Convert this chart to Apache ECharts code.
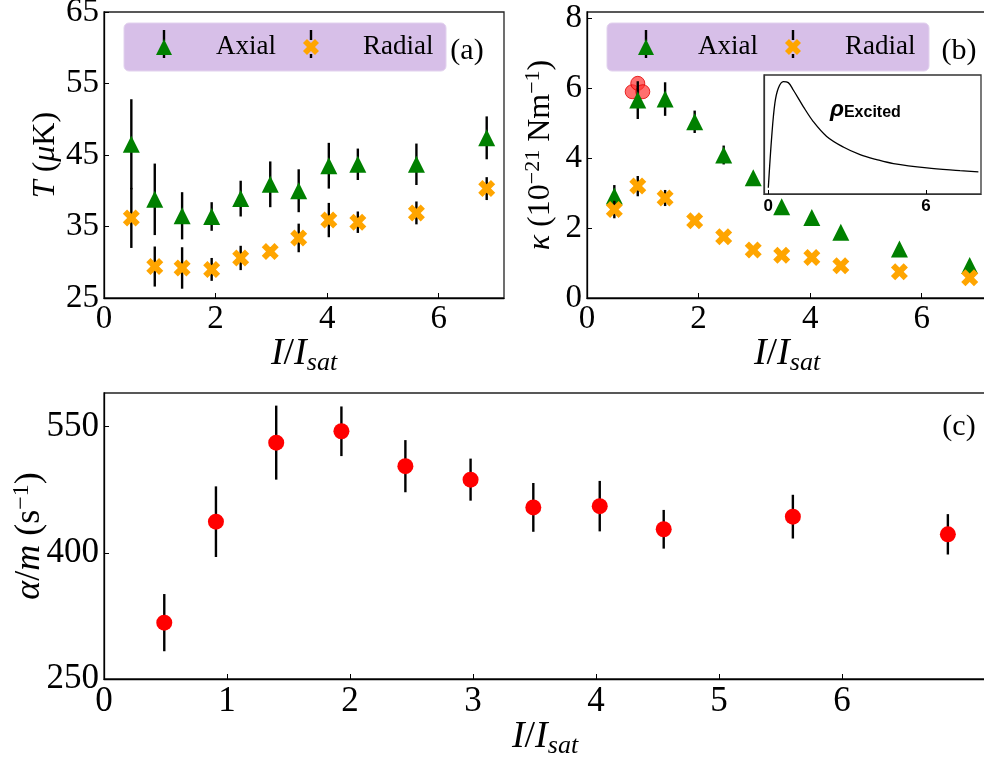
<!DOCTYPE html>
<html><head><meta charset="utf-8">
<script src="https://cdn.jsdelivr.net/npm/echarts@6/dist/echarts.min.js"></script>
<style>html,body{margin:0;padding:0;background:#fff}#c{width:984px;height:757px}</style>
</head><body><div id="c"></div>
<script>
// ---------- data ----------
const intensity = [0.49, 0.91, 1.40, 1.93, 2.45, 2.98, 3.49, 4.03, 4.55, 5.60, 6.86];
const tempAxial = [46.5, 38.8, 36.5, 36.4, 38.9, 40.9, 40.0, 43.5, 43.7, 43.7, 47.4];
const tempAxialErr = [6.3, 5.0, 3.3, 2.0, 2.5, 3.2, 3.0, 3.2, 2.2, 2.9, 3.0];
const tempRadial = [36.2, 29.4, 29.2, 29.0, 30.6, 31.5, 33.4, 35.9, 35.6, 36.9, 40.3];
const tempRadialErr = [4.2, 2.8, 2.9, 1.6, 1.7, 0.6, 2.0, 2.4, 1.5, 1.6, 1.6];
const kappaAxial = [2.92, 5.66, 5.69, 5.04, 4.09, 3.44, 2.61, 2.30, 1.88, 1.40, 0.93];
const kappaAxialErr = [0.31, 0.54, 0.48, 0.32, 0.27, 0.12, 0.1, 0.1, 0.1, 0.1, 0.1];
const kappaRadial = [2.53, 3.20, 2.86, 2.21, 1.75, 1.37, 1.22, 1.16, 0.92, 0.75, 0.58];
const kappaRadialErr = [0.25, 0.29, 0.23, 0.1, 0.1, 0.1, 0.1, 0.1, 0.1, 0.1, 0.1];
const peakX = [0.81, 0.91, 1.00];
const peakY = [5.90, 6.14, 5.90];
const alphaM = [317, 437, 531, 544.5, 503, 487, 454, 455.5, 428, 443, 422];
const alphaMErr = [34, 42, 44, 29.5, 31, 25, 29, 30, 23, 26, 24];
const insetX = [0, 0.13, 0.25, 0.38, 0.57, 0.76, 0.95, 1.33, 1.71, 2.22, 2.85, 3.49, 4.12, 4.76, 6.03, 7.29, 7.99];
const insetY = [0.052, 0.484, 0.763, 0.889, 0.944, 0.936, 0.874, 0.735, 0.609, 0.484, 0.395, 0.331, 0.289, 0.255, 0.219, 0.197, 0.186];
const ticksX_ab = [0, 2, 4, 6];
const ticksY_a = [25, 35, 45, 55, 65];
const ticksY_b = [0, 2, 4, 6, 8];
const ticksX_c = [0, 1, 2, 3, 4, 5, 6];
const ticksY_c = [250, 400, 550];
const ticksX_inset = [0, 6];

// ---------- helpers ----------
const SERIF = '"Liberation Serif"';
const SANS = '"Liberation Sans"';
const X_PATH = 'path://M1 0L2 1L3 0L4 1L3 2L4 3L3 4L2 3L1 4L0 3L1 2L0 1Z';
const zip = (a, b) => a.map((v, i) => [v, b[i]]);
const zip3 = (a, b, c) => a.map((v, i) => [v, b[i], c[i]]);

function errRender(params, api) {
  const x = api.value(0), y = api.value(1), e = api.value(2);
  const p1 = api.coord([x, y - e]), p2 = api.coord([x, y + e]);
  return { type: 'line', shape: { x1: p1[0], y1: p1[1], x2: p2[0], y2: p2[1] },
           style: { stroke: '#000', lineWidth: 2.4 } };
}
function axis(gridIndex, min, max, ticks, fontSize, extra) {
  return Object.assign({
    type: 'value', gridIndex, min, max, nameMoveOverlap: false,
    axisLine: { show: true, onZero: false, lineStyle: { color: '#000', width: 1.3 } },
    axisTick: { show: true, inside: true, length: 5, customValues: ticks, lineStyle: { color: '#000', width: 1 } },
    axisLabel: { show: true, customValues: ticks, fontFamily: SERIF, fontSize, color: '#000', margin: 5 },
    splitLine: { show: false }
  }, extra || {});
}
const xName = {
  name: '{i|I}{n|/}{i|I}{s|sat}', nameLocation: 'middle', nameGap: 34,
  nameTextStyle: { color: '#000', fontFamily: SERIF, fontSize: 38,
    rich: { i: { fontFamily: SERIF, fontStyle: 'italic', fontSize: 38, color: '#000' },
            n: { fontFamily: SERIF, fontSize: 38, color: '#000' },
            s: { fontFamily: SERIF, fontStyle: 'italic', fontSize: 26, color: '#000', padding: [18, 0, 0, 0] } } }
};
function yRich(size) {
  return { color: '#000', fontFamily: SERIF, fontSize: size,
    rich: { i: { fontFamily: SERIF, fontStyle: 'italic', fontSize: size, color: '#000' },
            n: { fontFamily: SERIF, fontSize: size, color: '#000' },
            p: { fontFamily: SERIF, fontSize: Math.round(size * 0.68), color: '#000', padding: [0, 0, 16, 0] } } };
}

const gridA = { left: 104, top: 12, width: 400, height: 286 };
const gridB = { left: 587, top: 12, width: 400, height: 286 };
const gridC = { left: 104, top: 393, width: 882, height: 286 };
const gridI = { left: 764, top: 75, width: 217, height: 119 };
const gridStyle = { show: true, borderColor: '#222', borderWidth: 1.3, backgroundColor: 'transparent',
                    containLabel: false, outerBoundsMode: 'none' };

const option = {
  animation: false,
  backgroundColor: '#fff',
  grid: [
    Object.assign({}, gridA, gridStyle),
    Object.assign({}, gridB, gridStyle),
    Object.assign({}, gridC, gridStyle),
    Object.assign({}, gridI, gridStyle, { backgroundColor: '#fff', borderColor: '#333' })
  ],
  xAxis: [
    axis(0, 0, 7.17, ticksX_ab, 33, xName),
    axis(1, 0, 7.17, ticksX_ab, 33, xName),
    axis(2, 0, 7.17, ticksX_c, 35, Object.assign({}, xName, { nameGap: 36 })),
    axis(3, -0.164, 8.09, ticksX_inset, 16, {
      axisLabel: { show: true, customValues: ticksX_inset, fontFamily: SANS, fontWeight: 'bold', fontSize: 17, color: '#000', margin: 4 },
      axisTick: { show: true, inside: true, length: 4, customValues: ticksX_inset, lineStyle: { color: '#000' } },
      axisLine: { show: true, onZero: false, lineStyle: { color: '#333', width: 1.2 } }
    })
  ],
  yAxis: [
    axis(0, 25, 65, ticksY_a, 33, { name: '{i|T} {n|(}{i|μ}{n|K)}', nameLocation: 'middle', nameGap: 42, nameTextStyle: yRich(32) }),
    axis(1, 0, 8.18, ticksY_b, 33, { name: '{i|κ} {n|(10}{p|−21}{n| Nm}{p|−1}{n|)}', nameLocation: 'middle', nameGap: 27, nameTextStyle: yRich(32) }),
    axis(2, 250, 590, ticksY_c, 35, { name: '{i|α}{n|/}{i|m} {n|(s}{p|−1}{n|)}', nameLocation: 'middle', nameGap: 54, nameTextStyle: yRich(36) }),
    axis(3, 0, 1, [], 10, { axisLabel: { show: false }, axisTick: { show: false },
      axisLine: { show: true, onZero: false, lineStyle: { color: '#333', width: 1.2 } } })
  ],
  legend: [
    { data: ['Axial', 'Radial'], left: 124, top: 23, orient: 'horizontal', padding: [9, 10, 9, 32],
      itemGap: 27, itemWidth: 16, itemHeight: 16, selectedMode: false, z: 10,
      textStyle: { fontFamily: SERIF, fontSize: 27, color: '#000', padding: [0, 0, 0, 39], lineHeight: 30 } },
    { data: ['Axial', 'Radial'], left: 607, top: 23, orient: 'horizontal', padding: [9, 10, 9, 31],
      itemGap: 27, itemWidth: 16, itemHeight: 16, selectedMode: false, z: 10,
      textStyle: { fontFamily: SERIF, fontSize: 27, color: '#000', padding: [0, 0, 0, 39], lineHeight: 30 } }
  ],
  graphic: [
    { type: 'rect', shape: { x: 124, y: 23, width: 322, height: 48, r: 5 }, style: { fill: '#d7bfe8', stroke: '#e2d2ee', lineWidth: 1 }, z: 1 },
    { type: 'rect', shape: { x: 607, y: 23, width: 322, height: 48, r: 5 }, style: { fill: '#d7bfe8', stroke: '#e2d2ee', lineWidth: 1 }, z: 1 },
    { type: 'line', shape: { x1: 164, y1: 30, x2: 164, y2: 41 }, style: { stroke: '#000', lineWidth: 2.4 }, z: 2 },
    { type: 'line', shape: { x1: 164, y1: 53, x2: 164, y2: 58 }, style: { stroke: '#000', lineWidth: 2.4 }, z: 2 },
    { type: 'line', shape: { x1: 311, y1: 30, x2: 311, y2: 40 }, style: { stroke: '#000', lineWidth: 2.4 }, z: 2 },
    { type: 'line', shape: { x1: 311, y1: 54, x2: 311, y2: 58 }, style: { stroke: '#000', lineWidth: 2.4 }, z: 2 },
    { type: 'line', shape: { x1: 646, y1: 30, x2: 646, y2: 41 }, style: { stroke: '#000', lineWidth: 2.4 }, z: 2 },
    { type: 'line', shape: { x1: 646, y1: 53, x2: 646, y2: 58 }, style: { stroke: '#000', lineWidth: 2.4 }, z: 2 },
    { type: 'line', shape: { x1: 793, y1: 30, x2: 793, y2: 40 }, style: { stroke: '#000', lineWidth: 2.4 }, z: 2 },
    { type: 'line', shape: { x1: 793, y1: 54, x2: 793, y2: 58 }, style: { stroke: '#000', lineWidth: 2.4 }, z: 2 },
    { type: 'text', x: 467, y: 51, style: { text: '(a)', fontFamily: SERIF, fontSize: 30, fill: '#000', textAlign: 'center', textVerticalAlign: 'middle' }, z: 20 },
    { type: 'text', x: 959, y: 51, style: { text: '(b)', fontFamily: SERIF, fontSize: 30, fill: '#000', textAlign: 'center', textVerticalAlign: 'middle' }, z: 20 },
    { type: 'text', x: 959, y: 427, style: { text: '(c)', fontFamily: SERIF, fontSize: 30, fill: '#000', textAlign: 'center', textVerticalAlign: 'middle' }, z: 20 },
    { type: 'text', x: 830, y: 110, z: 20, style: { text: '{r|ρ}{e|Excited}', textAlign: 'left', textVerticalAlign: 'middle',
      rich: { r: { fontFamily: SANS, fontWeight: 'bold', fontStyle: 'italic', fontSize: 23, fill: '#000' },
              e: { fontFamily: SANS, fontWeight: 'bold', fontSize: 16, fill: '#000', padding: [6, 0, 0, 0] } } } }
  ],
  series: [
    { type: 'scatter', name: 'peak', xAxisIndex: 1, yAxisIndex: 1, data: zip(peakX, peakY), symbol: 'circle', symbolSize: 14, z: 2,
      itemStyle: { color: 'rgba(255,50,50,0.7)', borderColor: 'rgba(225,0,0,0.8)', borderWidth: 1, opacity: 1 } },
    // panel a
    { type: 'custom', name: 'Axial err a', xAxisIndex: 0, yAxisIndex: 0, data: zip3(intensity, tempAxial, tempAxialErr), renderItem: errRender, encode: { x: 0, y: 1 }, z: 3 },
    { type: 'scatter', name: 'Axial', xAxisIndex: 0, yAxisIndex: 0, data: zip(intensity, tempAxial), symbol: 'triangle', symbolSize: 17, z: 4, itemStyle: { color: '#008000', opacity: 1 } },
    { type: 'custom', name: 'Radial err a', xAxisIndex: 0, yAxisIndex: 0, data: zip3(intensity, tempRadial, tempRadialErr), renderItem: errRender, encode: { x: 0, y: 1 }, z: 5 },
    { type: 'scatter', name: 'Radial', xAxisIndex: 0, yAxisIndex: 0, data: zip(intensity, tempRadial), symbol: X_PATH, symbolSize: 17, z: 6, itemStyle: { color: '#ffa500', opacity: 1 } },
    // panel b
    { type: 'custom', name: 'Axial err b', xAxisIndex: 1, yAxisIndex: 1, data: zip3(intensity, kappaAxial, kappaAxialErr), renderItem: errRender, encode: { x: 0, y: 1 }, z: 3 },
    { type: 'scatter', name: 'Axial', xAxisIndex: 1, yAxisIndex: 1, data: zip(intensity, kappaAxial), symbol: 'triangle', symbolSize: 17, z: 4, itemStyle: { color: '#008000', opacity: 1 } },
    { type: 'custom', name: 'Radial err b', xAxisIndex: 1, yAxisIndex: 1, data: zip3(intensity, kappaRadial, kappaRadialErr), renderItem: errRender, encode: { x: 0, y: 1 }, z: 5 },
    { type: 'scatter', name: 'Radial', xAxisIndex: 1, yAxisIndex: 1, data: zip(intensity, kappaRadial), symbol: X_PATH, symbolSize: 17, z: 6, itemStyle: { color: '#ffa500', opacity: 1 } },
    // panel c
    { type: 'custom', name: 'alpha err', xAxisIndex: 2, yAxisIndex: 2, data: zip3(intensity, alphaM, alphaMErr), renderItem: errRender, encode: { x: 0, y: 1 }, z: 3 },
    { type: 'scatter', name: 'alpha/m', xAxisIndex: 2, yAxisIndex: 2, data: zip(intensity, alphaM), symbol: 'circle', symbolSize: 16, z: 4, itemStyle: { color: '#ff0000', opacity: 1 } },
    // inset
    { type: 'line', name: 'rho excited', xAxisIndex: 3, yAxisIndex: 3, data: zip(insetX, insetY), showSymbol: false, smooth: 0.35,
      lineStyle: { color: '#000', width: 1.3 }, z: 3 }
  ]
};
const chart = echarts.init(document.getElementById('c'), null, { renderer: 'canvas' });
chart.setOption(option);
</script></body></html>
